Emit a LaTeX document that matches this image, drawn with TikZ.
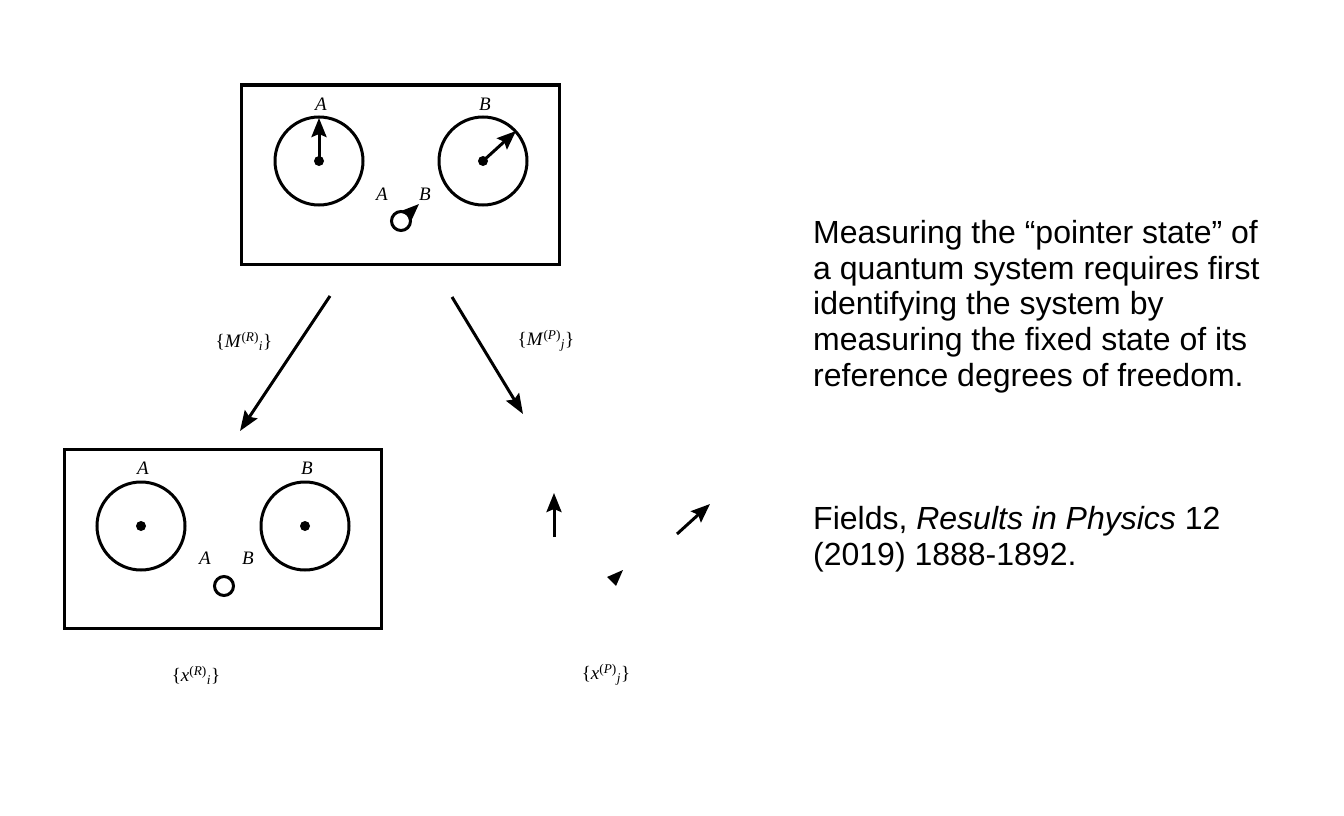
\documentclass[tikz,border=0pt]{standalone}
\usepackage{fontspec}
\setsansfont{Liberation Sans}
\setmainfont{Liberation Serif}
\usetikzlibrary{arrows.meta}
\begin{document}
\begin{tikzpicture}[x=1pt,y=-1pt,
  box/.style={draw,line width=3pt},
  circ/.style={draw,line width=3pt},
  ptr/.style={line width=3pt,-{Stealth[length=19pt,width=15pt,inset=3pt]}},
  big/.style={line width=3pt,-{Stealth[length=20pt,width=15pt,inset=3pt]}},
  lab/.style={font=\fontsize{19}{19}\selectfont\itshape},
  mlab/.style={font=\fontsize{19}{19}\selectfont},
  txt/.style={anchor=base west,font=\sffamily\fontsize{32}{32}\selectfont,inner sep=0}]
\useasboundingbox (0,0) rectangle (1344,816);
% top box
\node[box,minimum width=318pt,minimum height=179pt,inner sep=0] (top) at (400,174.5) {};
\node[circ,circle,minimum size=88pt,inner sep=0] (tA) at (319,161) {};
\node[circ,circle,minimum size=88pt,inner sep=0] (tB) at (483,161) {};
\fill (319,161) circle (5pt); \fill (483,161) circle (5pt);
\coordinate (tAc) at (319,161); \coordinate (tAp) at (319,118);
\coordinate (tBc) at (483,161); \coordinate (tBp) at (516,131);
\draw[ptr] (tAc) -- (tAp);
\draw[ptr] (tBc) -- (tBp);
\node[lab] (tla) at (321,104) {A};
\node[lab] (tlb) at (485,104) {B};
\node[lab] (tsa) at (382,194) {A};
\node[lab] (tsb) at (425,194) {B};
\node[circ,circle,minimum size=19pt,inner sep=0] (tsc) at (401,221) {};
\coordinate (tsp) at (419,204);
\draw[ptr] (tsc) -- (tsp);
% bottom box
\node[box,minimum width=317pt,minimum height=179pt,inner sep=0] (bot) at (222.5,538.5) {};
\node[circ,circle,minimum size=88pt,inner sep=0] (bA) at (141,526) {};
\node[circ,circle,minimum size=88pt,inner sep=0] (bB) at (305,526) {};
\fill (141,526) circle (5pt); \fill (305,526) circle (5pt);
\node[lab] (bla) at (143,468) {A};
\node[lab] (blb) at (307,468) {B};
\node[lab] (bsa) at (205,558) {A};
\node[lab] (bsb) at (248,558) {B};
\node[circ,circle,minimum size=19pt,inner sep=0] (bsc) at (224,586) {};
% big arrows
\coordinate (a1s) at (330,296); \coordinate (a1e) at (240,431);
\coordinate (a2s) at (452,297); \coordinate (a2e) at (523,414);
\draw[big] (a1s) -- (a1e);
\draw[big] (a2s) -- (a2e);
\node[mlab] (m1) at (244,341) {\{\textit{M}\textsuperscript{(\textit{R})}\textsubscript{\textit{i}}\}};
\node[mlab] (m2) at (546,341) {\{\textit{M}\textsuperscript{(\textit{P})}\textsubscript{\textit{j}}\}};
\node[mlab] (x1) at (196,675) {\{\textit{x}\textsuperscript{(\textit{R})}\textsubscript{\textit{i}}\}};
\node[mlab] (x2) at (606,675) {\{\textit{x}\textsuperscript{(\textit{P})}\textsubscript{\textit{j}}\}};
% loose pointers
\coordinate (p1s) at (554,537); \coordinate (p1e) at (554,493);
\coordinate (p2s) at (677,534); \coordinate (p2e) at (710,504);
\draw[ptr] (p1s) -- (p1e);
\draw[ptr] (p2s) -- (p2e);
\fill (607,577) -- (623,570) -- (616,586) -- cycle;
% text
\node[txt] (t1) at (813,243) {Measuring the “pointer state” of};
\node[txt] (t2) at (813,279) {a quantum system requires first};
\node[txt] (t3) at (813,314) {identifying the system by};
\node[txt] (t4) at (813,350) {measuring the fixed state of its};
\node[txt] (t5) at (813,386) {reference degrees of freedom.};
\node[txt] (t6) at (813,529) {Fields, \textit{Results in Physics} 12};
\node[txt] (t7) at (813,565) {(2019) 1888-1892.};
\end{tikzpicture}
\end{document}
